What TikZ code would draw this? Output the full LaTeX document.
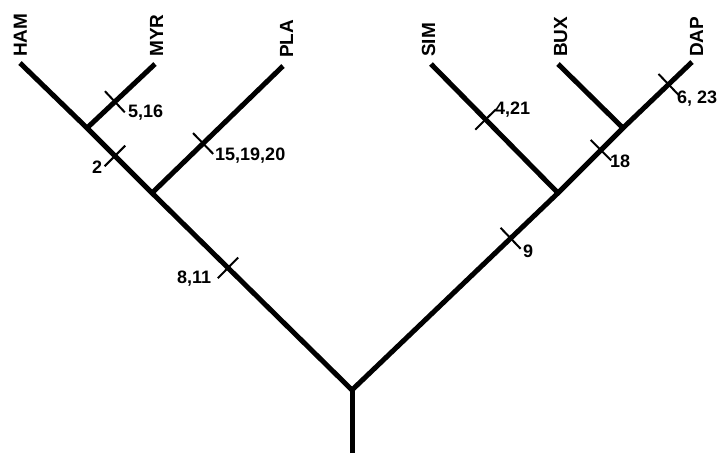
\documentclass[tikz,border=0pt]{standalone}
\usepackage{fontspec}
\setmainfont{Liberation Sans}
\usepackage{tikz}

\tikzset{
  branch/.style={line width=5pt, line cap=butt, line join=miter},
  tickpos/.style={inner sep=0pt, minimum width=0pt, minimum height=24pt, sloped},
  tick/.style={line width=2pt},
  taxon/.style={rotate=90, anchor=base west, inner sep=0pt, font=\fontsize{19}{19}\selectfont\bfseries},
  change/.style={anchor=base west, inner sep=0pt, font=\fontsize{18}{18}\selectfont\bfseries}
}

\begin{document}
\begin{tikzpicture}[x=1pt,y=-1pt]
\useasboundingbox (0,0) rectangle (718,453);

% fork points and tips
\coordinate (base) at (352,453);
\coordinate (root) at (352,390);
\coordinate (jp) at (152,193);
\coordinate (jm) at (87,128);
\coordinate (ham) at (20,63);
\coordinate (myr) at (155,64);
\coordinate (pla) at (283,66);
\coordinate (js) at (558,193);
\coordinate (jb) at (623,128);
\coordinate (dap) at (692,62);
\coordinate (sim) at (431,64);
\coordinate (bux) at (558,64);

% tree
\draw[branch] (base) -- (root);
\draw[branch] (ham) -- (jm)
  -- (jp) node[tickpos,pos=.43] (t2) {}
  -- (root) node[tickpos,pos=.38] (t811) {}
  -- (js) node[tickpos,pos=.77] (t9) {}
  -- (jb) node[tickpos,pos=.66] (t18) {}
  -- (dap) node[tickpos,pos=.66] (t623) {};
\draw[branch] (jm) -- (myr) node[tickpos,pos=.41] (t516) {};
\draw[branch] (jp) -- (pla) node[tickpos,pos=.39] (t151920) {};
\draw[branch] (js) -- (sim) node[tickpos,pos=.57] (t421) {};
\draw[branch] (jb) -- (bux);

\foreach \t in {t2,t811,t9,t18,t623,t516,t151920,t421}
  \draw[tick] (\t.north) -- (\t.south);

% taxa
\node[taxon] (HAM) at (27,57) {HAM};
\node[taxon] (MYR) at (163,57) {MYR};
\node[taxon] (PLA) at (293,58) {PLA};
\node[taxon] (SIM) at (435,57) {SIM};
\node[taxon] (BUX) at (567,57) {BUX};
\node[taxon] (DAP) at (703,57) {DAP};

% character changes
\node[change] (n516) at (128,117) {5,16};
\node[change] (n2) at (92,173) {2};
\node[change] (n151920) at (215,160) {15,19,20};
\node[change] (n811) at (177,283) {8,11};
\node[change] (n9) at (523,257) {9};
\node[change] (n421) at (495,114) {4,21};
\node[change] (n18) at (610,167) {18};
\node[change] (n623) at (677,103) {6, 23};
\end{tikzpicture}
\end{document}
